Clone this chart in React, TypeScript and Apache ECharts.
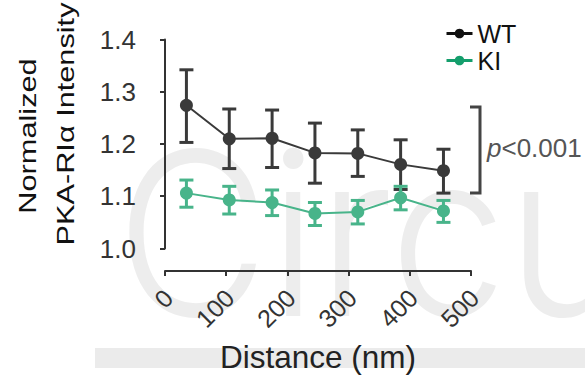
import React, { useEffect, useRef } from "react";
import * as echarts from "echarts";

const distances = [35, 105, 175, 245, 315, 385, 455];
const wtMean = [1.274, 1.21, 1.211, 1.183, 1.182, 1.161, 1.149];
const wtLow = [1.203, 1.153, 1.155, 1.125, 1.138, 1.113, 1.106];
const wtHigh = [1.342, 1.267, 1.265, 1.24, 1.227, 1.208, 1.19];
const kiMean = [1.106, 1.093, 1.088, 1.067, 1.07, 1.097, 1.072];
const kiLow = [1.079, 1.066, 1.063, 1.044, 1.047, 1.074, 1.05];
const kiHigh = [1.131, 1.119, 1.112, 1.088, 1.092, 1.119, 1.092];
const xTicks = [0, 100, 200, 300, 400, 500];
const yTicks = [1.0, 1.1, 1.2, 1.3, 1.4];

const WT_COLOR = "#3a3a3a";
const KI_COLOR = "#48b48a";
const FONT = "Liberation Sans, Arial, sans-serif";

function errorSeries(name: string, low: number[], high: number[], color: string) {
  return {
    type: "custom",
    name: name + "-err",
    z: 3,
    data: distances.map((d, i) => [d, low[i], high[i]]),
    renderItem: (params: any, api: any) => {
      const x = api.value(0);
      const lo = api.coord([x, api.value(1)]);
      const hi = api.coord([x, api.value(2)]);
      const half = 7;
      const style = { stroke: color, lineWidth: 3 };
      return {
        type: "group",
        children: [
          { type: "line", shape: { x1: lo[0], y1: lo[1], x2: hi[0], y2: hi[1] }, style },
          { type: "line", shape: { x1: lo[0] - half, y1: lo[1], x2: lo[0] + half, y2: lo[1] }, style },
          { type: "line", shape: { x1: hi[0] - half, y1: hi[1], x2: hi[0] + half, y2: hi[1] }, style },
        ],
      };
    },
  };
}

export default function App() {
  const ref = useRef<HTMLDivElement>(null);
  useEffect(() => {
    if (!ref.current) return;
    const chart = echarts.init(ref.current, undefined, { renderer: "svg" });
    const option: any = {
      animation: false,
      backgroundColor: "#ffffff",
      textStyle: { fontFamily: FONT },
      grid: { left: 165, right: 114, top: 39.5, bottom: 126.5, containLabel: false },
      legend: {
        orient: "vertical",
        left: 440,
        top: 16,
        itemWidth: 26,
        itemHeight: 12,
        itemGap: 2,
        textStyle: { fontSize: 25, color: "#111", fontFamily: FONT },
        data: [
          { name: "WT", itemStyle: { color: "#111" }, lineStyle: { color: "#111", width: 3 } },
          { name: "KI", itemStyle: { color: "#149e6c" }, lineStyle: { color: "#149e6c", width: 3 } },
        ],
      },
      xAxis: {
        type: "value",
        min: xTicks[0],
        max: xTicks[xTicks.length - 1],
        interval: 100,
        offset: 22.5,
        splitLine: { show: false },
        axisLine: { lineStyle: { color: "#333", width: 2 } },
        axisTick: { show: true, length: 5, lineStyle: { color: "#333", width: 2 } },
        axisLabel: {
          rotate: 45,
          fontSize: 25,
          color: "#333",
          margin: 26,
          fontFamily: FONT,
          padding: [0, -5, 0, 0],
        },
      },
      yAxis: {
        type: "value",
        min: yTicks[0],
        max: yTicks[yTicks.length - 1],
        interval: 0.1,
        offset: 20,
        splitLine: { show: false },
        axisLine: { show: true, lineStyle: { color: "#333", width: 2 } },
        axisTick: { show: true, length: 5, lineStyle: { color: "#333", width: 2 } },
        axisLabel: {
          fontSize: 26,
          color: "#333",
          margin: 9,
          fontFamily: FONT,
          formatter: (v: number) => v.toFixed(1),
        },
      },
      graphic: [
        {
          type: "text",
          z: -10,
          x: 116,
          y: 347,
          scaleX: 0.92,
          silent: true,
          style: {
            text: "Circu",
            fontSize: 228,
            fontFamily: "Inter, " + FONT,
            fontWeight: 300,
            fill: "#ededed",
            textVerticalAlign: "bottom",
          },
        },
        {
          type: "rect",
          z: -10,
          silent: true,
          shape: { x: 95, y: 348, width: 490, height: 20 },
          style: { fill: "#ebebeb" },
        },
        {
          type: "text",
          x: 28,
          y: 136,
          rotation: Math.PI / 2,
          scaleX: 1.28,
          style: {
            text: "Normalized",
            fontSize: 24,
            fontFamily: FONT,
            fill: "#111",
            textAlign: "center",
            textVerticalAlign: "middle",
          },
        },
        {
          type: "text",
          x: 66,
          y: 124,
          rotation: Math.PI / 2,
          scaleX: 1.28,
          style: {
            text: "PKA-RI\u03b1 Intensity",
            fontSize: 24,
            fontFamily: FONT,
            fill: "#111",
            textAlign: "center",
            textVerticalAlign: "middle",
          },
        },
        {
          type: "text",
          x: 318,
          y: 357,
          style: {
            text: "Distance (nm)",
            fontSize: 31.5,
            fontFamily: FONT,
            fill: "#222",
            textAlign: "center",
            textVerticalAlign: "middle",
          },
        },
        {
          type: "polyline",
          shape: { points: [[470, 107], [480, 107], [480, 193], [470, 193]] },
          style: { stroke: "#444", lineWidth: 3, fill: "none" },
        },
        {
          type: "text",
          x: 487,
          y: 148,
          style: {
            text: "{p|p}<0.001",
            fontSize: 26,
            fontFamily: FONT,
            fill: "#555",
            textVerticalAlign: "middle",
            rich: { p: { fontStyle: "italic", fontSize: 26, fontFamily: FONT, fill: "#555" } },
          },
        },
      ],
      series: [
        errorSeries("WT", wtLow, wtHigh, WT_COLOR),
        errorSeries("KI", kiLow, kiHigh, KI_COLOR),
        {
          name: "WT",
          type: "line",
          z: 4,
          data: distances.map((d, i) => [d, wtMean[i]]),
          symbol: "circle",
          symbolSize: 13,
          itemStyle: { color: WT_COLOR },
          lineStyle: { color: WT_COLOR, width: 2 },
        },
        {
          name: "KI",
          type: "line",
          z: 4,
          data: distances.map((d, i) => [d, kiMean[i]]),
          symbol: "circle",
          symbolSize: 13,
          itemStyle: { color: KI_COLOR },
          lineStyle: { color: KI_COLOR, width: 2 },
        },
      ],
    };
    chart.setOption(option);
    return () => chart.dispose();
  }, []);
  return (
    <div
      ref={ref}
      style={{ position: "absolute", left: 0, top: 0, width: 585, height: 375 }}
    />
  );
}
